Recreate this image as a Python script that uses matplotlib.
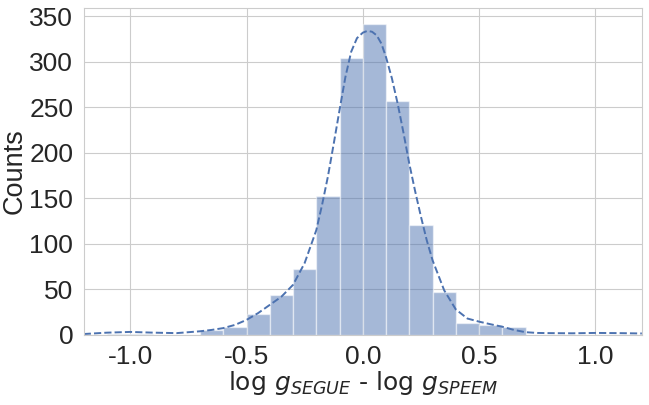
import numpy as np
import matplotlib
matplotlib.use('Agg')
import matplotlib.pyplot as plt
import seaborn as sns

sns.set_style('whitegrid')
plt.rcParams['font.family'] = ['Liberation Sans', 'DejaVu Sans']

# histogram, bin left edges and counts (bin width 0.1)
bin_left = [-1.1, -1.0, -0.7, -0.6, -0.5, -0.4, -0.3, -0.2, -0.1, 0.0, 0.1, 0.2, 0.3, 0.4, 0.5, 0.6]
counts = [1, 1, 5, 9, 23, 44, 72, 153, 304, 341, 257, 121, 47, 13, 11, 9]
bin_width = 0.1

# kde curve (in counts)
kde_x = [-1.2, -1.1, -1.0, -0.9, -0.8, -0.7, -0.65, -0.6, -0.55, -0.5, -0.45, -0.4, -0.35,
         -0.3, -0.25, -0.2, -0.175, -0.15, -0.125, -0.1, -0.075, -0.05, -0.025, 0.0, 0.02,
         0.04, 0.06, 0.08, 0.1, 0.125, 0.15, 0.175, 0.2, 0.225, 0.25, 0.275, 0.3, 0.35,
         0.4, 0.45, 0.5, 0.55, 0.6, 0.65, 0.7, 0.75, 0.8, 0.9, 1.0, 1.1, 1.2]
kde_y = [1, 2.5, 3.3, 2.5, 2, 4, 5.5, 7.5, 11, 16.5, 24, 33, 42,
         55, 79, 115, 143, 174, 210, 247, 283, 311, 326, 332, 334,
         333, 329, 320, 305, 282, 254, 222, 188, 158, 130, 104, 82, 49,
         28, 18, 14.6, 11.7, 9, 5.5, 3, 2.2, 2, 1.8, 2.2, 2, 1.6]

fig, ax = plt.subplots(figsize=(6.49, 4.05), dpi=100)
fig.subplots_adjust(left=0.129, right=0.989, top=0.980, bottom=0.173)

ax.bar(bin_left, counts, width=bin_width, align='edge', color='#4c72b0', alpha=0.5,
       edgecolor='white', linewidth=1)
ax.plot(kde_x, kde_y, '--', color='#4c72b0', linewidth=1.4)

ax.set_xlim(-1.2, 1.2)
ax.set_ylim(0, 359)
ax.set_xticks([-1.0, -0.5, 0.0, 0.5, 1.0])
ax.set_xticklabels(['-1.0', '-0.5', '0.0', '0.5', '1.0'])
ax.set_yticks(range(0, 351, 50))
ax.tick_params(labelsize=19, colors='#262626', pad=4)
ax.set_xlabel(r'$\log\, g_{SEGUE}$ - $\log\, g_{SPEEM}$', fontsize=18, color='#262626',
              family='DejaVu Sans')
ax.set_ylabel('Counts', fontsize=19.5, color='#262626')
ax.xaxis.set_label_coords(0.5, -0.105)
ax.yaxis.set_label_coords(-0.100, 0.5)

fig.savefig('out.png', dpi=100)
